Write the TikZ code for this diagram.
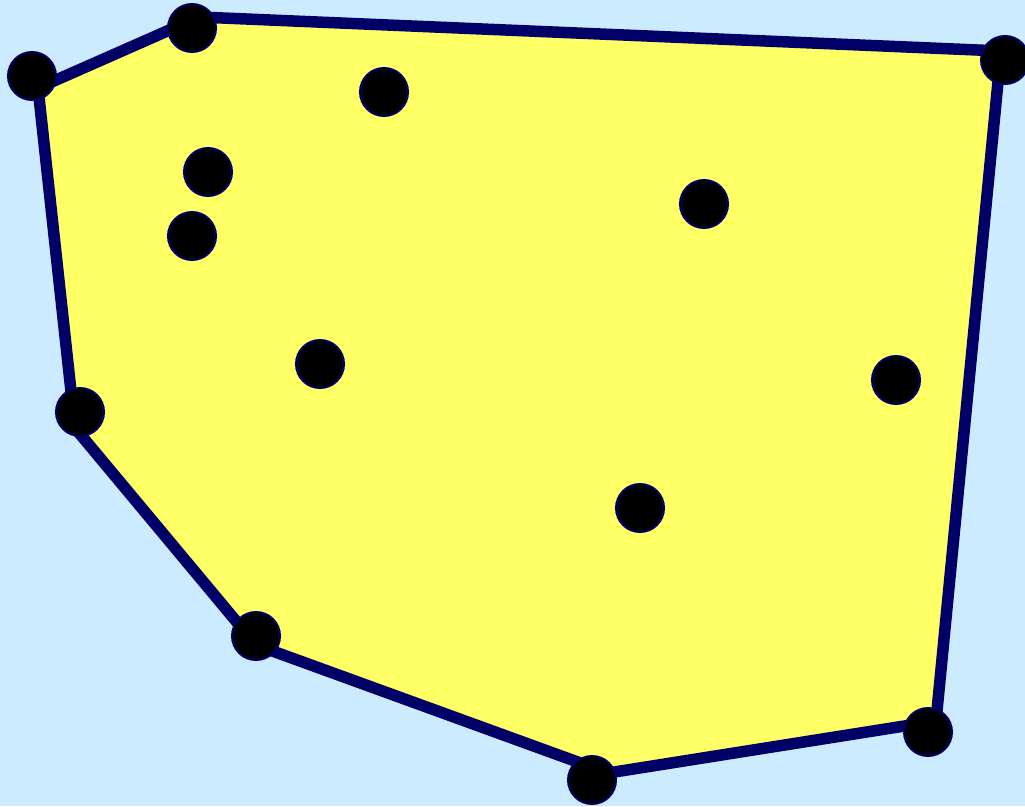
\documentclass[tikz,border=0pt]{standalone}
\definecolor{bgblue}{HTML}{CCEBFF}
\definecolor{hullfill}{HTML}{FFFF66}
\definecolor{navy}{HTML}{000066}
\begin{document}
\begin{tikzpicture}[x=1pt,y=-1pt,
  pt/.style={circle,fill=black,draw=navy,line width=2pt,minimum size=48pt,inner sep=0pt},
  hull/.style={draw=navy,line width=11.5pt,line join=round,fill=hullfill}]
\fill[bgblue] (0,0) rectangle (1025,806);
\useasboundingbox (0,0) rectangle (1025,806);
% hull polygon corners
\coordinate (h1) at (199,17);
\coordinate (h2) at (1001,51);
\coordinate (h3) at (936,721);
\coordinate (h4) at (608,773);
\coordinate (h5) at (256,645);
\coordinate (h6) at (75,428);
\coordinate (h7) at (38,88);
\draw[hull] (h1) -- (h2) -- (h3) -- (h4) -- (h5) -- (h6) -- (h7) -- cycle;
% points on the hull
\node[pt] (p1) at (192,28) {};
\node[pt] (p2) at (1005,60) {};
\node[pt] (p3) at (928,732) {};
\node[pt] (p4) at (592,780) {};
\node[pt] (p5) at (256,636) {};
\node[pt] (p6) at (80,412) {};
\node[pt] (p7) at (32,76) {};
% interior points
\node[pt] (i1) at (384,92) {};
\node[pt] (i2) at (208,172) {};
\node[pt] (i3) at (192,236) {};
\node[pt] (i4) at (704,204) {};
\node[pt] (i5) at (320,364) {};
\node[pt] (i6) at (896,380) {};
\node[pt] (i7) at (640,508) {};
\end{tikzpicture}
\end{document}
